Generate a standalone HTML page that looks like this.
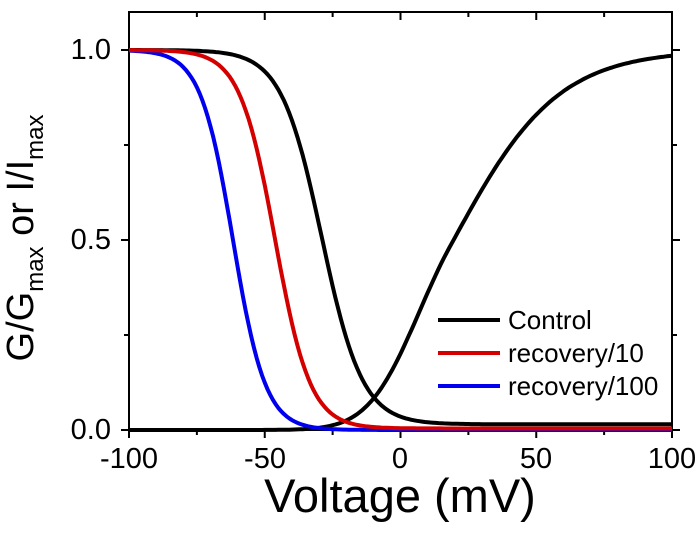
<!DOCTYPE html>
<html><head><meta charset="utf-8"><style>body{margin:0;background:#fff}svg{display:block}text{font-family:"Liberation Sans",Arial,sans-serif}</style></head>
<body>
<svg id="s" width="700" height="540" viewBox="0 0 700 540" xmlns="http://www.w3.org/2000/svg">
<g id="ax" stroke="#000" stroke-width="2" fill="none">
<rect x="129" y="12" width="543" height="418"/>
</g>
<g id="curves" fill="none" stroke-width="4" stroke-linejoin="round"></g>
<g font-size="29" text-anchor="end">
<text x="111" y="59">1.0</text><text x="111" y="249">0.5</text><text x="111" y="439">0.0</text>
</g>
<g font-size="29" text-anchor="middle">
<text x="129" y="468">-100</text><text x="265" y="468">-50</text><text x="400" y="468">0</text><text x="536" y="468">50</text><text x="672" y="468">100</text>
</g>
<text x="400" y="512" font-size="47" text-anchor="middle">Voltage (mV)</text>
<text transform="translate(33,238) rotate(-90)" font-size="38" text-anchor="middle">G/G<tspan font-size="24" dy="10">max</tspan><tspan dy="-10"> or I/I</tspan><tspan font-size="24" dy="10">max</tspan></text>
<g stroke-width="4"><line x1="438" y1="320" x2="500" y2="320" stroke="#000"/><line x1="438" y1="353" x2="500" y2="353" stroke="#d40000"/><line x1="438" y1="386" x2="500" y2="386" stroke="#0000ee"/></g>
<g font-size="26"><text x="508" y="329">Control</text><text x="508" y="362">recovery/10</text><text x="508" y="395">recovery/100</text></g>
</svg>
<script>
var X=function(v){return 129+(v+100)*2.715},Y=function(g){return 430-380*g};
var ax=document.getElementById('ax'),s='';
for(var v=-100;v<=100;v+=25){var L=(v%50==0)?8:5;var x=X(v);
s+='<line x1="'+x+'" y1="430" x2="'+x+'" y2="'+(430+L)+'"/>';
s+='<line x1="'+x+'" y1="12" x2="'+x+'" y2="'+(12+L)+'"/>';}
for(var g=0;g<=1.001;g+=0.25){var L=(Math.round(g*4)%2==0)?8:5;var y=Y(g);
s+='<line x1="129" y1="'+y+'" x2="'+(129-L)+'" y2="'+y+'"/>';
s+='<line x1="672" y1="'+y+'" x2="'+(672+L)+'" y2="'+y+'"/>';}
ax.innerHTML+=s;
function inact(h,k,b){var p='';for(var v=-100;v<=100;v+=1){var g=b+(1-b)/(1+Math.exp((v-h)/k));p+=(p?'L':'M')+X(v).toFixed(1)+','+Y(g).toFixed(1);}return p;}
function act(){var p='';for(var v=-100;v<=100;v+=1){var d=Math.min(v-18.2,0);var l=-0.07+0.052*(v-18.2)-0.0011*d*d;var g=1/(1+Math.exp(-l));p+=(p?'L':'M')+X(v).toFixed(1)+','+Y(g).toFixed(1);}return p;}
var c=document.getElementById('curves');
c.innerHTML='<path d="'+act()+'" stroke="#000"/>'+
'<path d="'+inact(-29,7.5,0.015)+'" stroke="#000"/>'+
'<path d="'+inact(-61.7,6,0)+'" stroke="#0000ee"/>'+
'<path d="'+inact(-46.2,6.5,0.004)+'" stroke="#d40000"/>';
</script>
</body></html>
